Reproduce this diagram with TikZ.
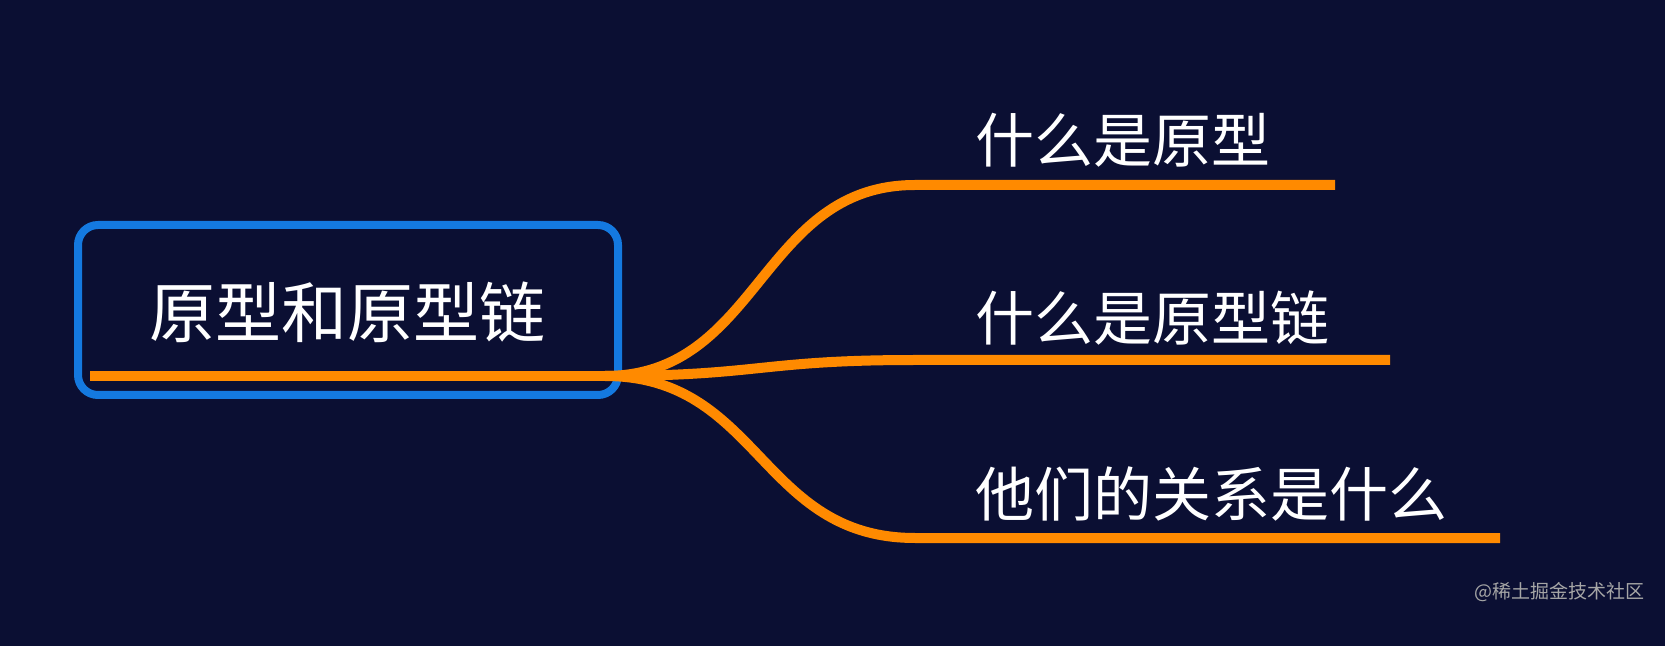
\documentclass[tikz,border=0pt]{standalone}
\usepackage{fontspec}
\newfontfamily\cjk{Noto Sans CJK SC}
\definecolor{bg}{HTML}{0B0F33}
\definecolor{org}{HTML}{FF8A00}
\definecolor{blu}{HTML}{1479E0}
\begin{document}
\begin{tikzpicture}[x=0.5pt,y=-0.5pt,
  br/.style={org,line width=5pt},
  lbl/.style={anchor=west,inner sep=0,text=white,font=\cjk\fontsize{29.5}{30}\selectfont}]
\fill[bg] (0,0) rectangle (1665,646);
\useasboundingbox (0,0) rectangle (1665,646);
\draw[blu,line width=4pt,rounded corners=10pt] (78,225) rectangle (618,395);
\node[text=white,font=\cjk\fontsize{33}{33}\selectfont] (root) at (347,312) {原型和原型链};
\coordinate (s) at (605,376);
\coordinate (r0) at (90,376);
\draw[br] (r0) -- (s);
\coordinate (a1) at (915,185); \coordinate (a2) at (1335,185);
\coordinate (b1) at (915,360); \coordinate (b2) at (1390,360);
\coordinate (c1) at (915,538); \coordinate (c2) at (1500,538);
\draw[br] (s) .. controls (760,376) and (760,185) .. (a1) -- (a2);
\draw[br] (s) .. controls (760,376) and (760,360) .. (b1) -- (b2);
\draw[br] (s) .. controls (760,376) and (760,538) .. (c1) -- (c2);
\node[lbl] (t1) at (975,140) {什么是原型};
\node[lbl] (t2) at (975,318) {什么是原型链};
\node[lbl] (t3) at (975,494) {他们的关系是什么};
\node[anchor=east,text=gray!70,font=\cjk\fontsize{9.5}{10}\selectfont] (wm) at (1652,592) {@稀土掘金技术社区};
\end{tikzpicture}
\end{document}
